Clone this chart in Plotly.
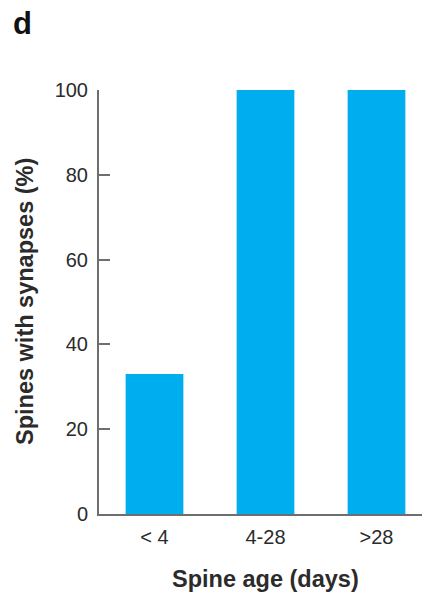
import plotly.graph_objects as go

# Fraction of spines that carry synapses, grouped by spine age
age_groups = ["< 4", "4-28", ">28"]
pct_with_synapses = [33, 100, 100]
y_ticks = [0, 20, 40, 60, 80, 100]

bar_color = "#00AEEF"
axis_color = "#6e6e6e"
text_color = "#2b2b2b"
font_family = "Liberation Sans, Arial, Helvetica, sans-serif"

# plot area in pixels: x from 99 to 422, y from 90 to 514
PLOT_W, PLOT_H = 323, 424

fig = go.Figure(
    go.Bar(
        x=list(range(len(age_groups))),
        y=pct_with_synapses,
        width=0.52,
        marker=dict(color=bar_color, line=dict(width=0)),
    )
)

fig.update_layout(
    width=422,
    height=594,
    margin=dict(l=99, r=0, t=90, b=80),
    paper_bgcolor="white",
    plot_bgcolor="white",
    showlegend=False,
    font=dict(family=font_family, color=text_color, size=20),
    xaxis=dict(
        range=[-0.5, 2.41],
        tickmode="array",
        tickvals=list(range(len(age_groups))),
        ticktext=age_groups,
        showgrid=False,
        zeroline=False,
        showline=True,
        linecolor=axis_color,
        linewidth=2,
        ticks="",
        ticklabelstandoff=4,
        tickfont=dict(size=20, color=text_color),
    ),
    yaxis=dict(
        range=[0, 100],
        tickmode="array",
        tickvals=y_ticks,
        showgrid=False,
        zeroline=False,
        showline=True,
        linecolor=axis_color,
        linewidth=2,
        ticks="inside",
        ticklen=11,
        tickwidth=2,
        tickcolor=axis_color,
        ticklabelstandoff=5,
        tickfont=dict(size=20, color=text_color),
    ),
    annotations=[
        dict(
            text="<b>d</b>", xref="paper", yref="paper",
            x=(22 - 99) / PLOT_W, y=1 + (90 - 23) / PLOT_H,
            xanchor="center", yanchor="middle",
            showarrow=False, font=dict(size=31, color="#111111"),
        ),
        dict(
            text="<b>Spines with synapses (%)</b>", xref="paper", yref="paper",
            x=(25 - 99) / PLOT_W, y=0.5, xanchor="center", yanchor="middle",
            textangle=-90, showarrow=False, font=dict(size=23.5, color=text_color),
        ),
        dict(
            text="<b>Spine age (days)</b>", xref="x", yref="paper",
            x=1, y=-(579 - 514) / PLOT_H, xanchor="center", yanchor="middle",
            showarrow=False, font=dict(size=23.5, color=text_color),
        ),
    ],
)

fig.write_html("out.html")
